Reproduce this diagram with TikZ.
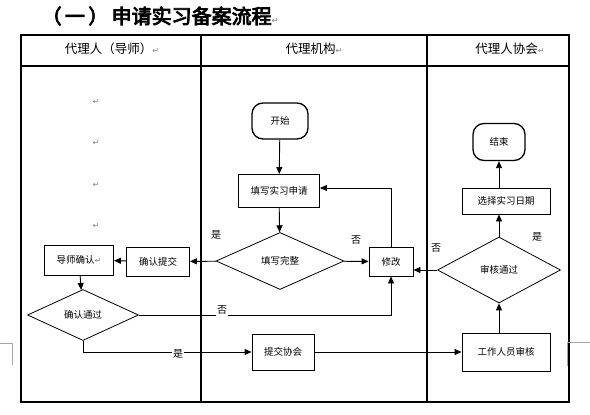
\documentclass[tikz,border=0pt]{standalone}
\usepackage{fontspec}
\setmainfont{Noto Sans CJK SC}
\newfontfamily\cjkbold[FakeBold=4]{Noto Sans CJK SC}
\newfontfamily\dv{DejaVu Sans}
\usetikzlibrary{arrows.meta,shapes.geometric}
\newcommand{\pmark}{{\dv\color{gray}\fontsize{8pt}{8pt}\selectfont ↵}}
\begin{document}
\begin{tikzpicture}[x=1pt,y=-1pt,
  tbl/.style={line width=1.2pt},
  box/.style={draw, line width=0.9pt, inner sep=0pt, font=\fontsize{9.5pt}{10pt}\selectfont},
  term/.style={box, rounded corners=11pt, line width=1.3pt},
  dia/.style={draw, diamond, line width=0.8pt, inner sep=0pt, aspect=2.2, font=\fontsize{9.5pt}{10pt}\selectfont},
  arr/.style={line width=0.9pt, -{Triangle[length=7pt,width=6pt]}},
  lbl/.style={font=\fontsize{10pt}{10pt}\selectfont, inner sep=1pt},
  head/.style={font=\fontsize{12.5pt}{13pt}\selectfont},
  crop/.style={draw=gray!70, line width=0.6pt}]
\useasboundingbox (0,0) rectangle (590,415);
% title
\node (title) at (160,16) {\cjkbold\fontsize{20pt}{20pt}\selectfont （\,一\,）\,申请实习备案流程\pmark};
% table
\draw[tbl] (21,35) rectangle (569,402);
\draw[tbl] (21,66) -- (569,66);
\draw[tbl] (201,35) -- (201,402);
\draw[tbl] (427,35) -- (427,402);
\node[head] (h1) at (112,49) {代理人（导师）\pmark};
\node[head] (h2) at (314,49) {代理机构\pmark};
\node[head] (h3) at (510,49) {代理人协会\pmark};
\node (p1) at (96,102) {\pmark};
\node (p2) at (96,143) {\pmark};
\node (p3) at (96,185) {\pmark};
\node (p4) at (96,226) {\pmark};
% crop marks
\draw[crop] (0,343) -- (12,343) -- (12,365);
\draw[crop] (567,366) -- (567,342) -- (590,342);
% nodes
\node[term, minimum width=56pt, minimum height=36pt] (start) at (280,121) {开始};
\node[box, minimum width=81pt, minimum height=33pt] (fill) at (279,191) {填写实习申请};
\node[dia, minimum width=128pt, minimum height=57pt] (chk) at (280,261) {填写完整};
\node[box, minimum width=44pt, minimum height=29pt] (mod) at (391,261.5) {修改};
\node[box, minimum width=63pt, minimum height=29pt] (sub) at (158,261.5) {确认提交};
\node[box, minimum width=69pt, minimum height=30pt] (tut) at (79,260) {导师确认\pmark};
\node[dia, minimum width=111pt, minimum height=51pt] (pass) at (83,315) {确认通过};
\node[box, minimum width=62pt, minimum height=36pt] (assoc) at (283,352) {提交协会};
\node[box, minimum width=88pt, minimum height=38pt] (rev) at (506,352) {工作人员审核};
\node[dia, minimum width=123pt, minimum height=66pt] (ok) at (499,270) {审核通过};
\node[box, minimum width=88pt, minimum height=26pt] (date) at (506,201) {选择实习日期};
\node[term, minimum width=52pt, minimum height=37pt] (end) at (499,142) {结束};
% connectors
\draw[arr] (start) -- (fill);
\draw[arr] (fill) -- (chk);
\draw[arr] (chk) -- (mod);
\draw[arr] (mod.north) |- ([yshift=3pt]fill.east);
\draw[arr] (chk) -- (sub);
\draw[arr] (sub) -- (tut);
\draw[arr] (tut) -- (pass);
\draw[arr] (pass.east) -| (mod.south);
\draw[arr] (pass.south) |- (assoc.west);
\draw[arr] (assoc) -- (rev);
\draw[arr] (rev.north -| ok.south) -- (ok.south);
\draw[arr] (ok.north) -- (ok.north |- date.south);
\draw[arr] (end.south |- date.north) -- (end.south);
\draw[arr] (ok.west) -- (ok.west -| mod.east);
% labels
\node[lbl] (l1) at (356,240) {否};
\node[lbl] (l2) at (216,235) {是};
\node[lbl, fill=white, inner ysep=3pt] (l3) at (222,310) {否};
\node[lbl, fill=white, inner ysep=3pt] (l4) at (178,354) {是};
\node[lbl] (l5) at (436,248) {否};
\node[lbl] (l6) at (537,237) {是};
\end{tikzpicture}
\end{document}
